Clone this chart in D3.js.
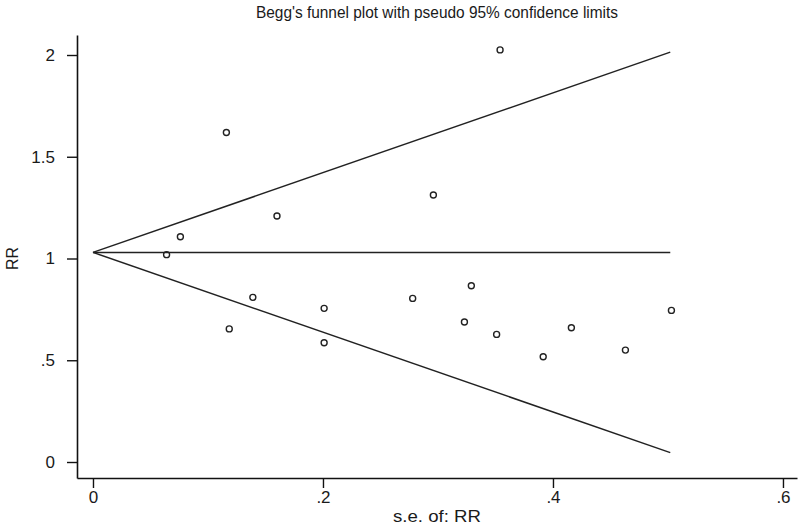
<!DOCTYPE html>
<html>
<head>
<meta charset="utf-8">
<script src="https://cdn.jsdelivr.net/npm/d3@7"></script>
<style>
  body { margin: 0; background: #fff; }
  text { font-family: "Liberation Sans", Arial, sans-serif; fill: #1a1a1a; }
</style>
</head>
<body>
<script>
// Study points
const seValues = [0.064, 0.076, 0.116, 0.1185, 0.139, 0.160, 0.201, 0.201, 0.278, 0.296,
                  0.323, 0.329, 0.351, 0.354, 0.3915, 0.416, 0.463, 0.503];
const rrValues = [1.019, 1.107, 1.619, 0.654, 0.809, 1.209, 0.755, 0.586, 0.804, 1.312,
                  0.688, 0.866, 0.627, 2.025, 0.517, 0.660, 0.550, 0.745];

// Pseudo 95% confidence limits (end points)
const limitSe = [0, 0.502];
const limitUpper = [1.03, 2.014];
const limitLower = [1.03, 0.046];
const pooled = [1.03, 1.03];

const xTicks = [0, 0.2, 0.4, 0.6];
const yTicks = [0, 0.5, 1, 1.5, 2];

const width = 800, height = 525;

const svg = d3.select("body").append("svg")
    .attr("width", width)
    .attr("height", height);

const x = d3.scaleLinear().domain([-0.0139, 0.6122]).range([77, 797]);
const y = d3.scaleLinear().domain([-0.0786, 2.0983]).range([478, 35]);

const fmt = (d) => d === 0 ? "0" : String(d).replace(/^0\./, ".");

// Axes
const xAxis = svg.append("g")
    .attr("transform", `translate(0, ${y.range()[0]})`)
    .call(d3.axisBottom(x).tickValues(xTicks).tickFormat(fmt).tickSize(10).tickSizeOuter(0).tickPadding(3));

const yAxis = svg.append("g")
    .attr("transform", `translate(${x.range()[0]}, 0)`)
    .call(d3.axisLeft(y).tickValues(yTicks).tickFormat(fmt).tickSize(10).tickSizeOuter(0).tickPadding(12));

[xAxis, yAxis].forEach((g) => {
    g.select(".domain").attr("stroke", "#111").attr("stroke-width", 1.6);
    g.selectAll(".tick line").attr("stroke", "#111").attr("stroke-width", 1.4);
    g.selectAll(".tick text").attr("font-size", 17).attr("fill", "#1a1a1a")
        .attr("font-family", "'Liberation Sans', Arial, sans-serif");
});

// Funnel lines
const line = d3.line().x((d) => x(d[0])).y((d) => y(d[1]));
[limitUpper, limitLower, pooled].forEach((vals) => {
    svg.append("path")
        .datum(limitSe.map((s, i) => [s, vals[i]]))
        .attr("d", line)
        .attr("fill", "none")
        .attr("stroke", "#222")
        .attr("stroke-width", 1.5);
});

// Points
svg.append("g")
    .selectAll("circle")
    .data(seValues.map((s, i) => [s, rrValues[i]]))
    .join("circle")
    .attr("cx", (d) => x(d[0]))
    .attr("cy", (d) => y(d[1]))
    .attr("r", 3)
    .attr("fill", "none")
    .attr("stroke", "#222")
    .attr("stroke-width", 1.4);

// Titles
const cx = (x.range()[0] + x.range()[1]) / 2;
svg.append("text")
    .attr("x", cx)
    .attr("y", 18)
    .attr("text-anchor", "middle")
    .attr("font-size", 16)
    .attr("textLength", 362)
    .attr("lengthAdjust", "spacingAndGlyphs")
    .text("Begg's funnel plot with pseudo 95% confidence limits");

svg.append("text")
    .attr("x", cx)
    .attr("y", 522)
    .attr("text-anchor", "middle")
    .attr("font-size", 17)
    .attr("textLength", 88)
    .attr("lengthAdjust", "spacingAndGlyphs")
    .text("s.e. of: RR");

svg.append("text")
    .attr("transform", `translate(18, ${y(1)}) rotate(-90)`)
    .attr("text-anchor", "middle")
    .attr("font-size", 16)
    .text("RR");
</script>
</body>
</html>
